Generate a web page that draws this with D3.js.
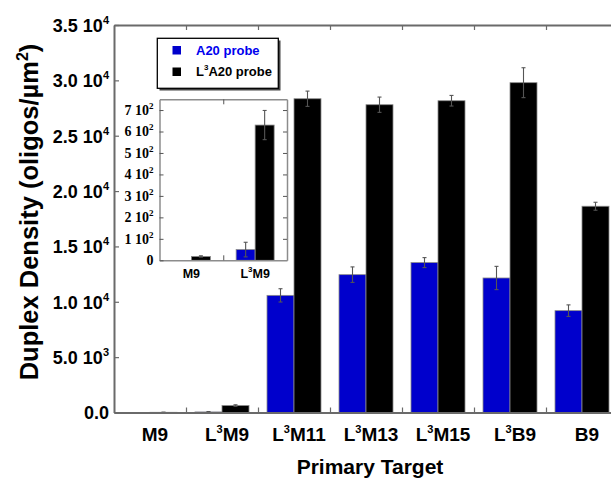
<!DOCTYPE html>
<html>
<head>
<meta charset="utf-8">
<script src="https://cdn.jsdelivr.net/npm/d3@7/dist/d3.min.js"></script>
<style>
  html, body { margin: 0; padding: 0; background: #fff; }
  svg { display: block; }
  text { font-family: "Liberation Sans", Arial, sans-serif; font-weight: bold; fill: #000; }
  .serif { font-family: "Liberation Serif", "Times New Roman", serif; }
</style>
</head>
<body>
<script>
// Primary targets (^{..} marks a superscript)
const categories = ["M9", "L^{3}M9", "L^{3}M11", "L^{3}M13", "L^{3}M15", "L^{3}B9", "B9"];
const seriesNames = ["A20 probe", "L^{3}A20 probe"];
// Duplex density, oligos/µm²
const a20Values = [0, 50, 10580, 12450, 13540, 12150, 9200];
const a20Errors = [0, 34, 600, 700, 450, 1050, 520];
const l3a20Values = [18, 630, 28340, 27800, 28160, 29790, 18630];
const l3a20Errors = [3, 68, 690, 690, 480, 1350, 360];
// Axis ticks
const yTicks = [0, 5000, 10000, 15000, 20000, 25000, 30000, 35000];
const insetTicks = [0, 100, 200, 300, 400, 500, 600, 700];
const insetCategories = ["M9", "L^{3}M9"];

const W = 611, H = 481;
const colors = ["#0000cc", "#000000"];
const axisColor = "#6a6a6a";

const svg = d3.select("body").append("svg").attr("width", W).attr("height", H);

// Writes a string with ^{..} superscripts into a <text> element
function rich(textSel, str, supSize, rise) {
  const parts = str.split(/(\^\{[^}]*\})/).filter(s => s.length);
  let raised = false;
  parts.forEach(p => {
    const m = p.match(/^\^\{([^}]*)\}$/);
    if (m) {
      textSel.append("tspan").attr("dy", -rise).attr("font-size", supSize).text(m[1]);
      raised = true;
    } else {
      const t = textSel.append("tspan").text(p);
      if (raised) { t.attr("dy", rise); raised = false; }
    }
  });
}

function sciLabel(v, decimals) {
  if (v === 0) return decimals ? (0).toFixed(decimals) : "0";
  const e = Math.floor(Math.log10(v));
  const m = v / Math.pow(10, e);
  return m.toFixed(decimals) + " 10^{" + e + "}";
}

// ---------- main plot ----------
const plot = { left: 114, top: 25, bottom: 412.5 };
const bandWidth = 72;
const x = d3.scaleBand().domain(categories).range([plot.left, plot.left + bandWidth * categories.length]);
const xSub = d3.scaleBand().domain(seriesNames).range([9, 63]);
const y = d3.scaleLinear().domain([0, 35000]).range([plot.bottom, plot.top]);

const rows = categories.map((c, i) => ({
  cat: c,
  bars: [
    { s: seriesNames[0], v: a20Values[i], e: a20Errors[i] },
    { s: seriesNames[1], v: l3a20Values[i], e: l3a20Errors[i] }
  ]
}));

function drawBars(g, data, xs, xsub, ys, capW) {
  const grp = g.selectAll("g.cat").data(data).join("g").attr("class", "cat")
    .attr("transform", d => `translate(${xs(d.cat)},0)`);
  grp.selectAll("rect").data(d => d.bars.filter(b => b.v > 0)).join("rect")
    .attr("x", b => xsub(b.s))
    .attr("width", xsub.bandwidth())
    .attr("y", b => ys(b.v))
    .attr("height", b => ys(0) - ys(b.v))
    .attr("fill", b => colors[seriesNames.indexOf(b.s)])
    .attr("stroke", "#8a8a8a").attr("stroke-width", 0.8);
  const eb = grp.selectAll("g.err").data(d => d.bars.filter(b => b.v > 0 && b.e > 0)).join("g").attr("class", "err")
    .attr("stroke", "#555").attr("stroke-width", 1.1);
  eb.append("line")
    .attr("x1", b => xsub(b.s) + xsub.bandwidth() / 2).attr("x2", b => xsub(b.s) + xsub.bandwidth() / 2)
    .attr("y1", b => ys(b.v - b.e)).attr("y2", b => ys(b.v + b.e));
  [1, -1].forEach(sgn => {
    eb.append("line")
      .attr("x1", b => xsub(b.s) + xsub.bandwidth() / 2 - capW).attr("x2", b => xsub(b.s) + xsub.bandwidth() / 2 + capW)
      .attr("y1", b => ys(b.v + sgn * b.e)).attr("y2", b => ys(b.v + sgn * b.e));
  });
}

drawBars(svg.append("g"), rows, x, xSub, y, 2);

// frame lines
const right = plot.left + bandWidth * categories.length;
const boundaries = d3.range(1, categories.length).map(i => plot.left + i * bandWidth);
const xb = d3.scaleLinear().domain([plot.left, right]).range([plot.left, right]);

const bottomAxis = svg.append("g").attr("transform", `translate(0,${plot.bottom})`)
  .call(d3.axisBottom(xb).tickValues(boundaries).tickSizeInner(-5).tickSizeOuter(0).tickFormat(""));
const topAxis = svg.append("g").attr("transform", `translate(0,${plot.top})`)
  .call(d3.axisTop(xb).tickValues(boundaries).tickSizeInner(-5).tickSizeOuter(0).tickFormat(""));
const leftAxis = svg.append("g").attr("transform", `translate(${plot.left},0)`)
  .call(d3.axisLeft(y).tickValues(yTicks).tickSizeInner(-5).tickSizeOuter(0).tickPadding(5).tickFormat(""));

[bottomAxis, topAxis, leftAxis].forEach(a => {
  a.select(".domain").attr("stroke", axisColor).attr("stroke-width", 2);
  a.selectAll(".tick line").attr("stroke", axisColor).attr("stroke-width", 1.2);
});

leftAxis.selectAll(".tick text").each(function (v) {
  const t = d3.select(this).attr("font-size", 18).attr("dy", "0.36em").attr("x", -5)
    .attr("font-family", "'Liberation Sans', Arial, sans-serif");
  rich(t, sciLabel(v, 1), 11, 8);
});

// category labels
const catAxis = svg.append("g").attr("transform", `translate(5,${plot.bottom})`)
  .call(d3.axisBottom(x).tickSize(0).tickFormat(""));
catAxis.select(".domain").remove();
catAxis.selectAll(".tick text").each(function (c) {
  const t = d3.select(this).attr("font-size", 19).attr("y", 28).attr("dy", 0)
    .attr("font-family", "'Liberation Sans', Arial, sans-serif");
  rich(t, c, 11, 8);
});

// axis titles
svg.append("text").attr("x", 370).attr("y", 474).attr("text-anchor", "middle")
  .attr("font-size", 21).text("Primary Target");
const yTitle = svg.append("text").attr("transform", "translate(38,212) rotate(-90)")
  .attr("text-anchor", "middle").attr("font-size", 25.5);
rich(yTitle, "Duplex Density (oligos/µm^{2})", 16, 10);

// ---------- legend ----------
const lg = svg.append("g");
lg.append("rect").attr("x", 159.5).attr("y", 40.5).attr("width", 121).attr("height", 50).attr("fill", "#444");
lg.append("rect").attr("x", 157.3).attr("y", 38.3).attr("width", 121).attr("height", 50)
  .attr("fill", "#fff").attr("stroke", "#000").attr("stroke-width", 1.3);
seriesNames.forEach((s, i) => {
  const yy = 50 + i * 21.5;
  lg.append("rect").attr("x", 172.5).attr("y", yy - 4).attr("width", 8.5).attr("height", 8.5).attr("fill", colors[i]);
  const t = lg.append("text").attr("x", 196).attr("y", yy + 4.5).attr("font-size", 13)
    .style("fill", i === 0 ? "#0000ee" : "#000");
  rich(t, s, 8, 6);
});

// ---------- inset (low-density targets) ----------
const inset = { left: 159.5, right: 287, top: 99.3, bottom: 260.3 };
const xi = d3.scaleBand().domain(insetCategories).range([inset.left, inset.right]);
const xiSub = d3.scaleBand().domain(seriesNames).range([12.9, 50.9]);
const yi = d3.scaleLinear().domain([0, 750]).range([inset.bottom, inset.top]);
const insetRows = rows.filter(r => insetCategories.includes(r.cat));

const ig = svg.append("g");
ig.append("rect").attr("x", inset.left).attr("y", inset.top)
  .attr("width", inset.right - inset.left).attr("height", inset.bottom - inset.top).attr("fill", "#fff");
drawBars(ig, insetRows, xi, xiSub, yi, 2);

const xib = d3.scaleLinear().domain([inset.left, inset.right]).range([inset.left, inset.right]);
const mid = [(inset.left + inset.right) / 2];
const iAxes = [
  ig.append("g").attr("transform", `translate(0,${inset.bottom})`)
    .call(d3.axisBottom(xib).tickValues(mid).tickSizeInner(-5).tickSizeOuter(0).tickFormat("")),
  ig.append("g").attr("transform", `translate(0,${inset.top})`)
    .call(d3.axisTop(xib).tickValues(mid).tickSizeInner(-5).tickSizeOuter(0).tickFormat("")),
  ig.append("g").attr("transform", `translate(${inset.right},0)`)
    .call(d3.axisRight(yi).tickValues(insetTicks.slice(1)).tickSizeInner(-4).tickSizeOuter(0).tickFormat("")),
  ig.append("g").attr("transform", `translate(${inset.left},0)`)
    .call(d3.axisLeft(yi).tickValues(insetTicks).tickSizeInner(-4).tickSizeOuter(0).tickPadding(6).tickFormat(""))
];
iAxes.forEach(a => {
  a.select(".domain").attr("stroke", "#8c8c8c").attr("stroke-width", 1.5);
  a.selectAll(".tick line").attr("stroke", "#555").attr("stroke-width", 1);
});
iAxes[3].selectAll(".tick text").each(function (v) {
  const t = d3.select(this).attr("class", "serif").attr("font-size", 14).attr("dy", "0.32em").attr("x", -6)
    .attr("font-family", "'Liberation Serif', 'Times New Roman', serif");
  rich(t, sciLabel(v, 0), 9, 6);
});
const iCat = ig.append("g").attr("transform", `translate(0,${inset.bottom})`)
  .call(d3.axisBottom(xi).tickSize(0).tickFormat(""));
iCat.select(".domain").remove();
iCat.selectAll(".tick text").each(function (c) {
  const t = d3.select(this).attr("font-size", 12.5).attr("y", 18).attr("dy", 0)
    .attr("font-family", "'Liberation Sans', Arial, sans-serif");
  rich(t, c, 8, 6);
});
</script>
</body>
</html>
